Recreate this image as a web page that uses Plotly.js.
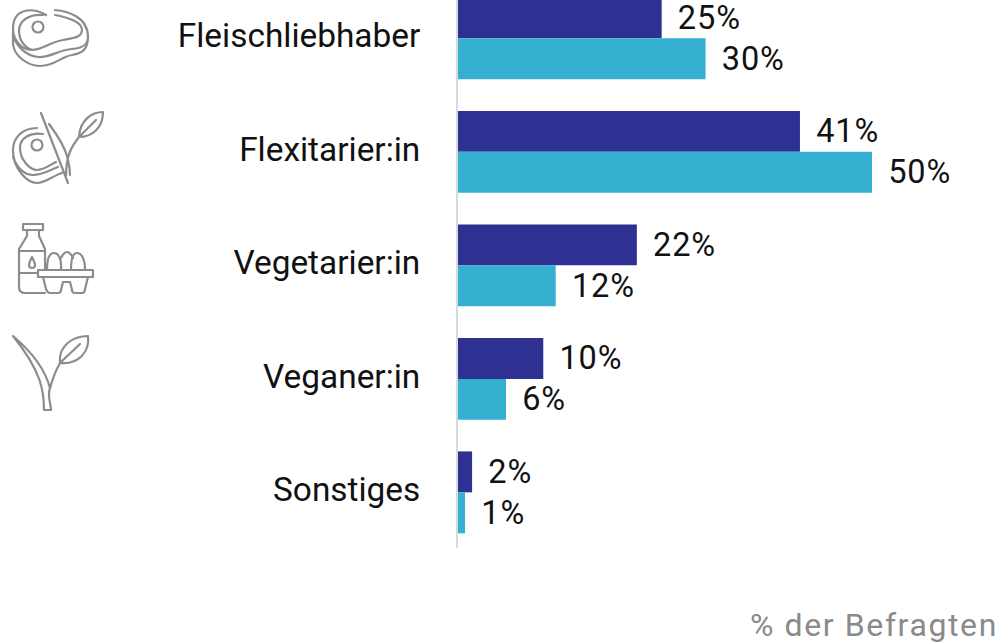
<!DOCTYPE html>
<html><head><meta charset="utf-8">
<script src="https://cdn.plot.ly/plotly-3.0.1.min.js"></script>
<style>html,body{margin:0;padding:0;background:#fff;overflow:hidden}#c{width:1000px;height:643px}.annotation-text,.annotation text{letter-spacing:1.6px}.bartext{letter-spacing:.9px}</style>
</head><body><div id="c"></div>
<script>
const categories = ["Fleischliebhaber","Flexitarier:in","Vegetarier:in","Veganer:in","Sonstiges"];
const seriesDark = [24.6,41.3,21.6,10.3,1.7];
const seriesLight = [29.9,50,11.8,5.8,0.85];
const labelsDark = ["25%","41%","22%","10%","2%"];
const labelsLight = ["30%","50%","12%","6%","1%"];
const iconPaths = [
 // steak
 "M46 15C36 8 13 6 13 29C13 38 20 50 32 50C42 50 50 42 63 40C72 38 82 38 82 30C82 22 70 18 55 15M43 15C30 14 19 20 19 31C19 42 27 49 33 50M55 10C66 11 88 16 88 37C88 44 84 48 72 49C58 50 50 58 38 57C27 56 14 46 13 32V44C14 56 28 66 40 66C55 66 60 57 72 55C82 53 88 50 88 37",
 // meat and leaf
 "M41 113L68 183M49 124C58 136 66 150 68 160C70 168 70 172 70 175M103 112C92 112 80 120 79 137C92 137 103 128 103 112ZM79 137L96 120M79 137C72 146 66 155 66 176M37 128C22 128 13 138 13 150C13 170 28 183 37 183C46 183 52 176 62 173M43 134C30 132 20 138 20 148C20 160 30 170 37 170C44 170 50 165 56 162M13 157C18 170 26 175 33 175C42 175 50 170 58 167",
 // milk and eggs
 "M23 224H43V230H23ZM27 230V236L19 249V287C19 291 21 293 25 293H45M39 230V236L45 249V270M19 251H45M19 273H38M32 257C30 261 29 263 29 265C29 267 30 268 32 268C34 268 35 267 35 265C35 263 34 261 32 257ZM38 270H93V277H38ZM47 270C47 258 50 253 54 253C58 253 62 258 61 270M61 258C63 254 65 252 67 252C69 252 71 254 73 258M71 270C71 258 73 253 77 253C81 253 85 258 85 270M43 277L46 289C47 292 48 293 50 293H58C60 293 61 292 61 290L63 282H70L72 290C72 292 73 293 75 293H82C84 293 85 292 85 289L88 277",
 // plant
 "M13 336C26 347 44 365 50 388C47 396 51 404 51 410H44C44 392 42 372 13 336ZM49 392C52 380 56 370 60 363C78 365 90 352 88 336C74 336 58 345 60 363M62 361L80 344"
];
const notes = "% der Befragten";

function svgUri(){
 const s = '<svg xmlns="http://www.w3.org/2000/svg" width="1000" height="643" viewBox="0 0 1000 643"><g fill="none" stroke="#8c8c8c" stroke-width="2.2" stroke-linecap="round" stroke-linejoin="round">'
  + iconPaths.map(d=>'<path d="'+d+'"/>').join('')
  + '<circle cx="38" cy="27" r="5.5"/><circle cx="37" cy="145" r="5.5"/></g></svg>';
 return 'data:image/svg+xml;charset=utf-8,'+encodeURIComponent(s);
}
const pad = "\u00A0\u200A";
const font = "Roboto, sans-serif";
const traces = [
 {type:"bar",orientation:"h",y:categories,x:seriesDark,marker:{color:"#2e3192"},text:labelsDark.map(v=>pad+v),textposition:"outside",cliponaxis:false,textfont:{family:font,size:32.5,color:"#111"},hoverinfo:"skip"},
 {type:"bar",orientation:"h",y:categories,x:seriesLight,marker:{color:"#36b0d1"},text:labelsLight.map(v=>pad+v),textposition:"outside",cliponaxis:false,textfont:{family:font,size:32.5,color:"#111"},hoverinfo:"skip"}
];
const L=458,W=542,H=548,B=95;
const layout = {
 width:1000,height:643,margin:{l:L,r:0,t:0,b:B,pad:0},
 paper_bgcolor:"#fff",plot_bgcolor:"#fff",showlegend:false,
 barmode:"group",bargap:0.278,bargroupgap:0,
 xaxis:{range:[0,W/8.28],visible:false,fixedrange:true},
 yaxis:{type:"category",range:[4.49,-0.338],showline:true,linecolor:"#d9d9d9",linewidth:2,showgrid:false,zeroline:false,
  ticks:"outside",ticklen:29,tickcolor:"rgba(0,0,0,0)",tickfont:{family:font,size:33.4,color:"#111111"},ticklabelshift:3,fixedrange:true},
 annotations:[{xref:"paper",yref:"paper",x:(1000-L)/W,y:(643-625-B)/H,xanchor:"right",yanchor:"middle",text:notes,showarrow:false,font:{family:font,size:32,color:"#8a8a8a"}}],
 images:[{source:svgUri(),xref:"paper",yref:"paper",x:-L/W,y:1,sizex:1000/W,sizey:643/H,xanchor:"left",yanchor:"top",sizing:"stretch",layer:"above"}]
};
Plotly.newPlot("c",traces,layout,{displayModeBar:false,staticPlot:true});
</script></body></html>
